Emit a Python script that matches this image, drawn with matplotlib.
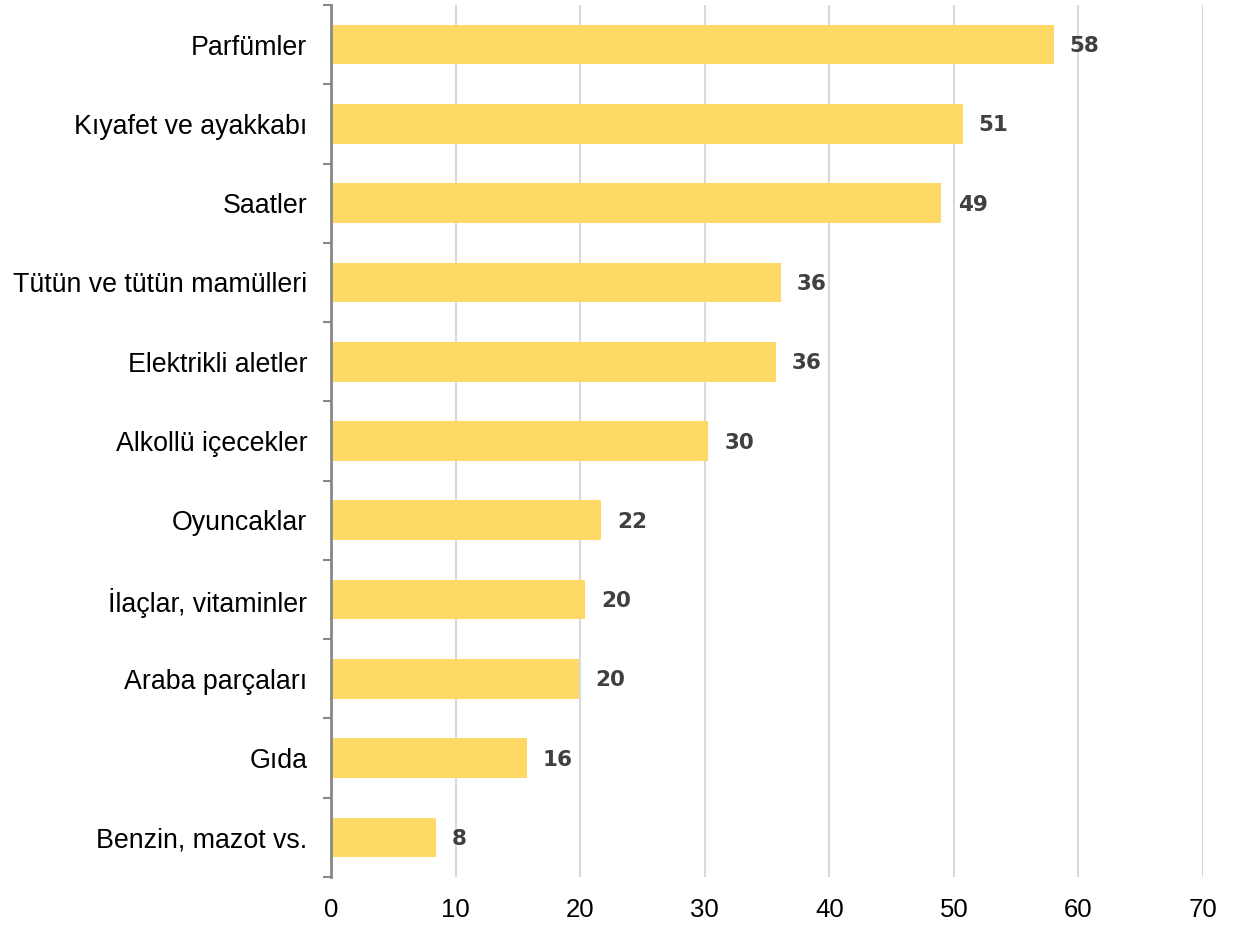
import matplotlib
matplotlib.use("Agg")
import matplotlib.pyplot as plt
import numpy as np

categories = ["Parfümler", "Kıyafet ve ayakkabı", "Saatler", "Tütün ve tütün mamülleri",
              "Elektrikli aletler", "Alkollü içecekler", "Oyuncaklar", "İlaçlar, vitaminler",
              "Araba parçaları", "Gıda", "Benzin, mazot vs."]
values = [58.0, 50.7, 49.0, 36.1, 35.7, 30.3, 21.7, 20.4, 19.9, 15.7, 8.4]
x_ticks = [0, 10, 20, 30, 40, 50, 60, 70]

fig = plt.figure(figsize=(12.33, 9.27), dpi=100)
ax = fig.add_axes([331 / 1233, 1 - 877 / 927, 872 / 1233, 872 / 927])

y = np.arange(len(categories))
ax.barh(y, values, height=0.5, color="#FFD966", zorder=3)

# rounded value next to each bar
for yi, v in zip(y, values):
    ax.text(v + 1.3, yi + 0.02, f"{v:.0f}", va="center", ha="left",
            fontsize=15.5, fontweight="heavy", color="#404040", family="DejaVu Sans")

ax.set_xlim(0, 70)
ax.set_ylim(len(categories) - 0.5, -0.5)
ax.set_xticks(x_ticks)
ax.set_xticklabels([str(t) for t in x_ticks], fontsize=18.5, family="Liberation Sans")
ax.tick_params(axis="x", length=0, pad=15)

ax.set_yticks(y)
ax.set_yticklabels(categories, fontsize=19.3, family="Liberation Sans")
ax.tick_params(axis="y", which="major", length=0, pad=17)
ax.set_yticks(np.arange(-0.5, len(categories)), minor=True)
ax.tick_params(axis="y", which="minor", length=6, width=1.5, color="#888888", direction="out")

ax.grid(axis="x", color="#D9D9D9", linewidth=1.5, zorder=0)
ax.set_axisbelow(True)
for s in ["top", "right", "bottom"]:
    ax.spines[s].set_visible(False)
ax.spines["left"].set_color("#888888")
ax.spines["left"].set_linewidth(2)
ax.spines["left"].set_zorder(4)

fig.savefig("out.png", dpi=100)
